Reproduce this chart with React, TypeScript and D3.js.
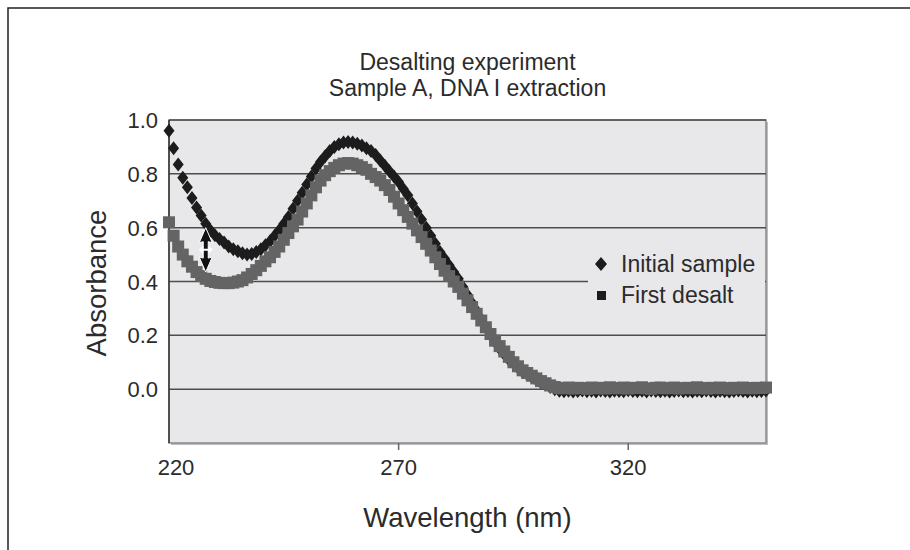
import React, { useEffect, useRef } from 'react';
import * as d3 from 'd3';

const wavelengths = [
  220, 221, 222, 223, 224, 225, 226, 227, 228, 229,
  230, 231, 232, 233, 234, 235, 236, 237, 238, 239,
  240, 241, 242, 243, 244, 245, 246, 247, 248, 249,
  250, 251, 252, 253, 254, 255, 256, 257, 258, 259,
  260, 261, 262, 263, 264, 265, 266, 267, 268, 269,
  270, 271, 272, 273, 274, 275, 276, 277, 278, 279,
  280, 281, 282, 283, 284, 285, 286, 287, 288, 289,
  290, 291, 292, 293, 294, 295, 296, 297, 298, 299,
  300, 301, 302, 303, 304, 305, 306, 307, 308, 309,
  310, 311, 312, 313, 314, 315, 316, 317, 318, 319,
  320, 321, 322, 323, 324, 325, 326, 327, 328, 329,
  330, 331, 332, 333, 334, 335, 336, 337, 338, 339,
  340, 341, 342, 343, 344, 345, 346, 347, 348, 349,
  350,
];

const initialSample = [
  0.96, 0.895, 0.835, 0.785, 0.75, 0.71, 0.675, 0.645, 0.615, 0.59,
  0.572, 0.558, 0.545, 0.53, 0.52, 0.512, 0.505, 0.5, 0.502, 0.51,
  0.52, 0.535, 0.55, 0.57, 0.59, 0.615, 0.64, 0.67, 0.7, 0.73,
  0.76, 0.79, 0.82, 0.845, 0.865, 0.885, 0.9, 0.91, 0.916, 0.918,
  0.916, 0.912, 0.905, 0.895, 0.885, 0.87, 0.85, 0.83, 0.81, 0.79,
  0.77, 0.745, 0.72, 0.69, 0.66, 0.63, 0.6, 0.57, 0.54, 0.51,
  0.485, 0.46, 0.435, 0.41, 0.38, 0.35, 0.32, 0.29, 0.26, 0.23,
  0.2, 0.175, 0.15, 0.13, 0.11, 0.095, 0.08, 0.065, 0.055, 0.045,
  0.035, 0.025, 0.017, 0.008, 0.0, -0.006, -0.008, -0.006, -0.009, -0.007,
  -0.005, -0.008, -0.006, -0.009, -0.005, -0.007, -0.009, -0.006, -0.007, -0.008,
  -0.004, -0.007, -0.008, -0.006, -0.009, -0.005, -0.007, -0.008, -0.006, -0.009,
  -0.007, -0.005, -0.008, -0.007, -0.009, -0.006, -0.008, -0.005, -0.007, -0.009,
  -0.006, -0.008, -0.009, -0.007, -0.005, -0.007, -0.009, -0.006, -0.008, -0.007,
  -0.005,
];

const firstDesalt = [
  0.62, 0.57, 0.53, 0.5, 0.475, 0.455, 0.435, 0.42, 0.41, 0.402,
  0.398, 0.395, 0.394, 0.394, 0.396, 0.4, 0.405, 0.415, 0.428, 0.442,
  0.458, 0.475, 0.49, 0.51, 0.53, 0.555, 0.58, 0.605, 0.63, 0.66,
  0.69, 0.72, 0.75, 0.775, 0.795, 0.81, 0.822, 0.832, 0.838, 0.84,
  0.838, 0.832, 0.825, 0.815, 0.8, 0.788, 0.775, 0.758, 0.74, 0.715,
  0.69, 0.665, 0.64, 0.615, 0.59, 0.565, 0.54, 0.515, 0.49, 0.465,
  0.44, 0.42, 0.4, 0.38, 0.355, 0.33, 0.305, 0.28, 0.255, 0.23,
  0.205, 0.18, 0.16, 0.14, 0.12, 0.1, 0.085, 0.07, 0.06, 0.05,
  0.04, 0.03, 0.022, 0.014, 0.008, 0.004, 0.003, 0.006, 0.002, 0.005,
  0.004, 0.001, 0.006, 0.003, 0.005, 0.002, 0.007, 0.004, 0.003, 0.006,
  0.002, 0.005, 0.004, 0.007, 0.003, 0.001, 0.005, 0.006, 0.003, 0.004,
  0.006, 0.002, 0.004, 0.005, 0.003, 0.007, 0.004, 0.002, 0.005, 0.003,
  0.006, 0.004, 0.002, 0.005, 0.003, 0.006, 0.004, 0.003, 0.005, 0.004,
  0.006,
];

const yTicks = [0.0, 0.2, 0.4, 0.6, 0.8, 1.0];
const xTicks = [220, 270, 320];
const titleLines = ['Desalting experiment', 'Sample A, DNA I extraction'];
const legendLabels = ['Initial sample', 'First desalt'];
const xLabel = 'Wavelength (nm)';
const yLabel = 'Absorbance';

// the double arrow marking the gap between the two curves
const arrowNm = 228;
const arrowTop = 0.6;
const arrowBottom = 0.435;

const FONT = '"Liberation Sans", Arial, Helvetica, sans-serif';
const TEXT = '#2b2b2b';
const PLOT_BG = '#e8e8ea';
const DIAMOND = 'M0,-7L5.5,0L0,7L-5.5,0Z';

const App = () => {
  const svgRef = useRef(null);

  useEffect(() => {
    const svg = d3.select(svgRef.current);
    svg.selectAll('*').remove();

    const x = d3.scaleLinear().domain([220, 350]).range([169, 766]);
    const y = d3.scaleLinear().domain([-0.2, 1.0]).range([443, 120]);
    const [x0, x1] = x.range();
    const [yb, yt] = y.range();

    // outer frame (only top and left edges show)
    svg.append('path')
      .attr('d', 'M8,550L8,8L910,8')
      .attr('fill', 'none')
      .attr('stroke', '#222')
      .attr('stroke-width', 1.5);

    // title
    titleLines.forEach((t, i) => {
      svg.append('text')
        .attr('x', (x0 + x1) / 2)
        .attr('y', 70 + i * 26)
        .attr('text-anchor', 'middle')
        .attr('font-family', FONT)
        .attr('font-size', 23)
        .attr('fill', TEXT)
        .text(t);
    });

    // plot background
    svg.append('rect')
      .attr('x', x0 + 2)
      .attr('y', yt + 2)
      .attr('width', x1 - x0)
      .attr('height', yb - yt)
      .attr('fill', '#bdbdbd');
    svg.append('rect')
      .attr('x', x0)
      .attr('y', yt)
      .attr('width', x1 - x0)
      .attr('height', yb - yt)
      .attr('fill', PLOT_BG)
      .attr('stroke', '#8a8a8a')
      .attr('stroke-width', 1.5);

    // gridlines
    svg.append('g')
      .selectAll('line')
      .data(yTicks)
      .join('line')
      .attr('x1', x0)
      .attr('x2', x1)
      .attr('y1', d => y(d))
      .attr('y2', d => y(d))
      .attr('stroke', '#4d4d4d')
      .attr('stroke-width', 1.5);

    // left axis line
    svg.append('line')
      .attr('x1', x0).attr('x2', x0)
      .attr('y1', yt).attr('y2', yb)
      .attr('stroke', '#333')
      .attr('stroke-width', 1.5);

    // x ticks
    svg.append('g')
      .selectAll('line')
      .data(xTicks.slice(1))
      .join('line')
      .attr('x1', d => x(d))
      .attr('x2', d => x(d))
      .attr('y1', yb)
      .attr('y2', yb + 7)
      .attr('stroke', '#666')
      .attr('stroke-width', 1.5);

    svg.append('g')
      .selectAll('text')
      .data(xTicks)
      .join('text')
      .attr('x', (d, i) => x(d) + (i === 0 ? 7 : 0))
      .attr('y', 475)
      .attr('text-anchor', 'middle')
      .attr('font-family', FONT)
      .attr('font-size', 22)
      .attr('fill', TEXT)
      .text(d => d);

    // y tick labels
    svg.append('g')
      .selectAll('text')
      .data(yTicks)
      .join('text')
      .attr('x', 158)
      .attr('y', d => y(d) + 8)
      .attr('text-anchor', 'end')
      .attr('font-family', FONT)
      .attr('font-size', 22)
      .attr('fill', TEXT)
      .text(d => d.toFixed(1));

    // axis titles
    svg.append('text')
      .attr('x', (x0 + x1) / 2)
      .attr('y', 527)
      .attr('text-anchor', 'middle')
      .attr('font-family', FONT)
      .attr('font-size', 27.5)
      .attr('fill', TEXT)
      .text(xLabel);

    svg.append('text')
      .attr('transform', 'rotate(-90)')
      .attr('x', -283)
      .attr('y', 106)
      .attr('text-anchor', 'middle')
      .attr('font-family', FONT)
      .attr('font-size', 27.5)
      .attr('fill', TEXT)
      .text(yLabel);

    // legend box covers the gridline behind it
    svg.append('rect')
      .attr('x', 588)
      .attr('y', 246)
      .attr('width', x1 - 588 - 1)
      .attr('height', 72)
      .attr('fill', PLOT_BG);

    // series: initial sample (black diamonds) under first desalt (gray squares)
    svg.append('g')
      .selectAll('path')
      .data(wavelengths)
      .join('path')
      .attr('d', DIAMOND)
      .attr('transform', (d, i) => `translate(${x(d)},${y(initialSample[i])})`)
      .attr('fill', '#1c1c1c');

    svg.append('g')
      .selectAll('rect')
      .data(wavelengths)
      .join('rect')
      .attr('x', d => x(d) - 6)
      .attr('y', (d, i) => y(firstDesalt[i]) - 6)
      .attr('width', 12)
      .attr('height', 12)
      .attr('fill', '#646464');

    // legend
    svg.append('path')
      .attr('d', 'M0,-7L6,0L0,7L-6,0Z')
      .attr('transform', 'translate(601,264)')
      .attr('fill', '#1c1c1c');
    svg.append('rect')
      .attr('x', 597)
      .attr('y', 291)
      .attr('width', 9)
      .attr('height', 9)
      .attr('fill', '#1c1c1c');

    legendLabels.forEach((t, i) => {
      svg.append('text')
        .attr('x', 621)
        .attr('y', 272 + i * 31)
        .attr('font-family', FONT)
        .attr('font-size', 23)
        .attr('fill', TEXT)
        .text(t);
    });

    // double arrow between the curves
    const ax = x(arrowNm);
    const ay0 = y(arrowTop);
    const ay1 = y(arrowBottom);
    const ym = (ay0 + ay1) / 2;
    svg.append('path')
      .attr('d', `M${ax},${ay0}L${ax + 6.5},${ay0 + 15}L${ax + 2.5},${ay0 + 14}L${ax + 2.5},${ay1 - 14}L${ax + 6.5},${ay1 - 15}L${ax},${ay1}L${ax - 6.5},${ay1 - 15}L${ax - 2.5},${ay1 - 14}L${ax - 2.5},${ay0 + 14}L${ax - 6.5},${ay0 + 15}Z`)
      .attr('fill', '#111')
      .attr('stroke', '#fff')
      .attr('stroke-width', 1);
    svg.append('path')
      .attr('d', `M${ax - 7},${ym}L${ax - 3},${ym - 4}L${ax - 3},${ym - 1}L${ax + 3},${ym - 1}L${ax + 3},${ym - 4}L${ax + 7},${ym}L${ax + 3},${ym + 4}L${ax + 3},${ym + 1}L${ax - 3},${ym + 1}L${ax - 3},${ym + 4}Z`)
      .attr('fill', '#fff');
  }, []);

  return (
    <svg
      ref={svgRef}
      width={910}
      height={550}
      style={{ position: 'absolute', left: 0, top: 0, background: '#fff' }}
    />
  );
};

export default App;
